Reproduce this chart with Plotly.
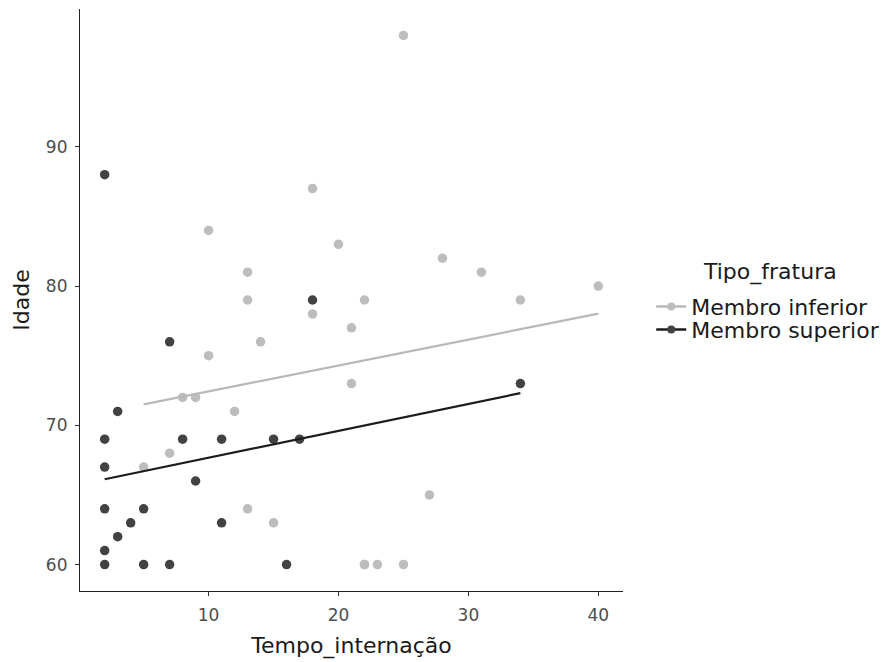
import numpy as np
import plotly.graph_objects as go

# Membro inferior (light) - includes an overlapping duplicate at (22, 60)
inf_x = [25, 18, 10, 20, 28, 13, 31, 13, 22, 34, 40, 18, 21, 14, 10, 21, 8, 9, 12, 7, 5, 27, 13, 15, 22, 22, 23, 25]
inf_y = [98, 87, 84, 83, 82, 81, 81, 79, 79, 79, 80, 78, 77, 76, 75, 73, 72, 72, 71, 68, 67, 65, 64, 63, 60, 60, 60, 60]
# Membro superior (dark)
sup_x = [2, 7, 3, 2, 8, 11, 15, 17, 18, 34, 2, 9, 2, 5, 4, 11, 3, 2, 2, 5, 7, 16]
sup_y = [88, 76, 71, 69, 69, 69, 69, 69, 79, 73, 67, 66, 64, 64, 63, 63, 62, 61, 60, 60, 60, 60]

groups = ["Membro inferior", "Membro superior"]
marker_colors = ["#bdbdbd", "#424242"]
line_colors = ["#b8b8b8", "#1c1c1c"]
x_ticks = [10, 20, 30, 40]
y_ticks = [60, 70, 80, 90]

FONT = "DejaVu Sans"
fig = go.Figure()
legends = ["legend", "legend2"]
for name, xs, ys, mc, lc, lg in zip(groups, [inf_x, sup_x], [inf_y, sup_y], marker_colors, line_colors, legends):
    xs = np.array(xs, float); ys = np.array(ys, float)
    b, a = np.polyfit(xs, ys, 1)
    lx = np.array([xs.min(), xs.max()])
    fig.add_trace(go.Scatter(x=xs, y=ys, mode="markers", marker=dict(color=mc, size=9.5),
                             showlegend=False, hoverinfo="x+y"))
    fig.add_trace(go.Scatter(x=lx, y=a + b * lx, mode="lines", line=dict(color=lc, width=2.2),
                             showlegend=False, hoverinfo="skip"))
    fig.add_trace(go.Scatter(x=[None], y=[None], mode="lines+markers", name=name, legend=lg,
                             marker=dict(color=mc, size=8), line=dict(color=lc, width=2.4)))

leg_common = dict(xanchor="left", yanchor="middle", font=dict(size=22, color="#1a1a1a"),
                  itemwidth=30, bgcolor="rgba(0,0,0,0)")
fig.update_layout(
    width=885, height=662,
    margin=dict(l=80, r=262, t=9, b=71, autoexpand=False),
    plot_bgcolor="white", paper_bgcolor="white",
    font=dict(family=FONT, color="#1a1a1a"),
    legend=dict(x=1.052, y=0.4884, **leg_common),
    legend2=dict(x=1.052, y=0.449, **leg_common),
    annotations=[dict(text="Tipo_fratura", xref="paper", yref="paper", x=1.1445, y=0.548,
                      xanchor="left", yanchor="middle", showarrow=False,
                      font=dict(size=22, color="#1a1a1a"))],
)
fig.update_xaxes(range=[0.1, 41.9], tickvals=x_ticks, showgrid=False, zeroline=False,
                 showline=True, linecolor="#222", linewidth=1.2, ticks="outside", ticklen=4,
                 tickcolor="#333", tickfont=dict(size=17, color="#4d4d4d"), ticklabelstandoff=4,
                 title=dict(text="Tempo_internação", font=dict(size=22, color="#1a1a1a"), standoff=14))
fig.update_yaxes(range=[58.1, 99.9], tickvals=y_ticks, showgrid=False, zeroline=False,
                 showline=True, linecolor="#222", linewidth=1.2, ticks="outside", ticklen=4,
                 tickcolor="#333", tickfont=dict(size=17, color="#4d4d4d"), ticklabelstandoff=4,
                 title=dict(text="Idade", font=dict(size=22, color="#1a1a1a"), standoff=10))
fig.write_html("out.html")
